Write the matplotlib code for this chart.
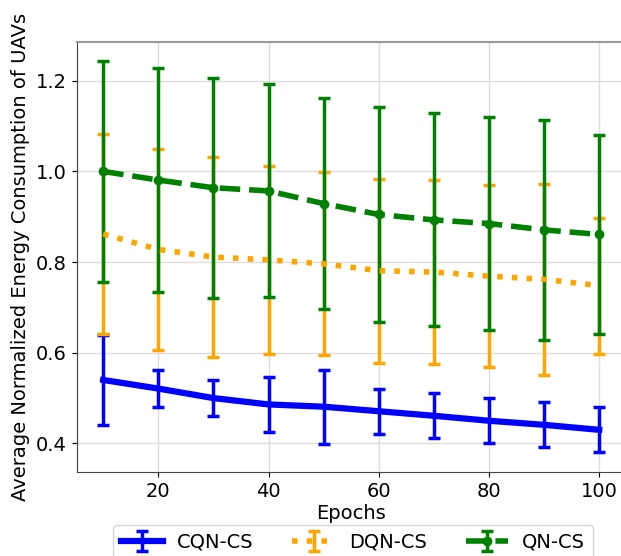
import numpy as np
import matplotlib
matplotlib.use('Agg')
import matplotlib.pyplot as plt

# Training epochs on the x axis
epochs = [10, 20, 30, 40, 50, 60, 70, 80, 90, 100]

# Mean normalized energy consumption and spread per method
cqn_mean = [0.540, 0.521, 0.500, 0.486, 0.481, 0.471, 0.461, 0.450, 0.441, 0.430]
cqn_err = [0.100, 0.041, 0.040, 0.060, 0.082, 0.050, 0.050, 0.050, 0.050, 0.050]

dqn_mean = [0.862, 0.828, 0.811, 0.805, 0.796, 0.781, 0.778, 0.769, 0.762, 0.748]
dqn_err = [0.221, 0.221, 0.221, 0.207, 0.202, 0.203, 0.202, 0.200, 0.210, 0.150]

qn_mean = [1.000, 0.981, 0.964, 0.957, 0.929, 0.905, 0.893, 0.885, 0.871, 0.861]
qn_err = [0.243, 0.247, 0.243, 0.235, 0.233, 0.237, 0.235, 0.234, 0.243, 0.220]

labels = ['CQN-CS', 'DQN-CS', 'QN-CS']

plt.rcParams['font.size'] = 14

fig = plt.figure(figsize=(6.21, 5.56), dpi=100)
ax = fig.add_axes([0.1235, 0.151, 0.884, 0.774])

ax.errorbar(epochs, cqn_mean, yerr=cqn_err, color='blue', linestyle='-', linewidth=4.5,
            elinewidth=2.5, capsize=4, capthick=2.5, label=labels[0])
ax.errorbar(epochs, dqn_mean, yerr=dqn_err, color='orange', linestyle=':', linewidth=4,
            elinewidth=2.5, capsize=4, capthick=2.5, label=labels[1])
ax.errorbar(epochs, qn_mean, yerr=qn_err, color='green', linestyle='--', linewidth=4,
            marker='o', markersize=6, elinewidth=2.5, capsize=4, capthick=2.5,
            label=labels[2])

ax.set_xlim(5.2, 104.8)
ax.set_xlabel('Epochs', labelpad=2)
ax.set_ylabel('Average Normalized Energy Consumption of UAVs')
ax.set_xticks([20, 40, 60, 80, 100])
ax.set_yticks([0.4, 0.6, 0.8, 1.0, 1.2])
ax.grid(True, color='#dddddd', linewidth=1)
ax.set_axisbelow(True)
ax.spines['top'].set_color('#999999')
ax.spines['top'].set_linewidth(1.5)
ax.spines['right'].set_visible(False)
ax.spines['left'].set_color('#444444')
ax.spines['bottom'].set_color('#444444')

fig.legend(loc='upper center', bbox_to_anchor=(0.568, 0.056), ncol=3,
           borderaxespad=0, handlelength=2.2, handletextpad=0.7, columnspacing=2.0)

fig.savefig('out.png', dpi=100)
